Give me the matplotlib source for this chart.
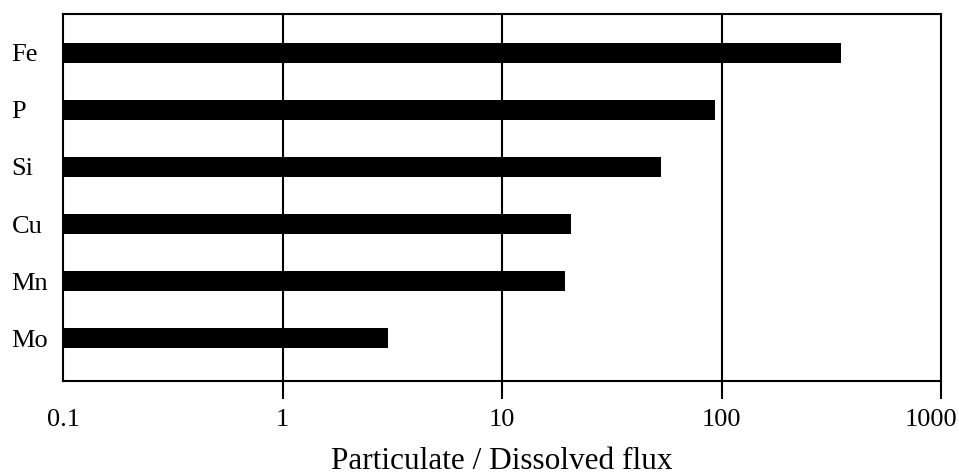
import matplotlib
matplotlib.use("Agg")
import matplotlib.pyplot as plt
from matplotlib.transforms import ScaledTranslation

elements = ["Fe", "P", "Si", "Cu", "Mn", "Mo"]
ratios = [351, 93, 53, 20.6, 19.3, 3.03]
base = 0.1
x_ticks = [0.1, 1, 10, 100, 1000]
x_tick_labels = ["0.1", "1", "10", "100", "1000"]

plt.rcParams["font.family"] = ["Liberation Serif", "DejaVu Serif"]

W, H = 959, 476
fig = plt.figure(figsize=(W / 100, H / 100), dpi=100)
ax = fig.add_axes([63 / W, (H - 381) / H, (941 - 63) / W, (381 - 14) / H])

n = len(elements)
ypos = [n - 1 - i for i in range(n)]
ax.barh(ypos, [r - base for r in ratios], left=base, height=0.35,
        color="black", zorder=3)

ax.set_xscale("log")
ax.set_xlim(0.1, 1000)
ax.set_ylim(-0.75, n - 1 + 0.68)

ax.set_xticks(x_ticks)
ax.set_xticklabels(x_tick_labels)
ax.xaxis.set_minor_locator(matplotlib.ticker.NullLocator())
ax.tick_params(axis="x", direction="out", length=13, width=1.5, pad=7,
               labelsize=19, color="black")
ax.xaxis.get_major_ticks()[0].tick1line.set_visible(False)
# keep the last label inside the figure
last = ax.get_xticklabels()[-1]
last.set_transform(last.get_transform() +
                   ScaledTranslation(-10 / 100, 0, fig.dpi_scale_trans))

ax.set_yticks(ypos)
ax.set_yticklabels(elements)
ax.tick_params(axis="y", length=0, pad=37, labelsize=19)
for lbl in ax.get_yticklabels():
    lbl.set_horizontalalignment("left")

for xv in x_ticks[1:-1]:
    ax.axvline(xv, color="black", lw=1.5, zorder=2)

for sp in ax.spines.values():
    sp.set_linewidth(1.5)
    sp.set_color("black")

ax.set_xlabel("Particulate / Dissolved flux", fontsize=22.5, labelpad=12)

fig.savefig("out.png", dpi=100)
